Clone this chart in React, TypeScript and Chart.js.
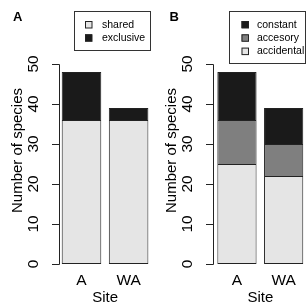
import React, { useEffect, useRef } from 'react';
import { Chart, registerables } from 'chart.js';

Chart.register(...registerables);

const sites = ['A', 'WA'];
const sharedCounts = [36, 36];
const exclusiveCounts = [12, 3];
const accidentalCounts = [25, 22];
const accesoryCounts = [11, 8];
const constantCounts = [12, 9];
const yTickValues = [0, 10, 20, 30, 40, 50];

const LIGHT = '#e5e5e5';
const MID = '#7f7f7f';
const DARK = '#1a1a1a';
const LINE = '#222222';
const FONT = '"Liberation Sans", Arial, Helvetica, sans-serif';

type PanelCfg = {
  letter: string;
  letterX: number;
  left: number;
  width: number;
  padLeft: number;
  padRight: number;
  axisX: number;
  series: { label: string; data: number[]; color: string }[];
  legendOrder: number[];
  legendBox: { x: number; y: number; w: number; h: number };
  squareX: number;
  textX: number;
  rows: number[];
};

const panels: PanelCfg[] = [
  {
    letter: 'A',
    letterX: 13,
    left: 0,
    width: 153,
    padLeft: 57.95,
    padRight: 0.85,
    axisX: 59.5,
    series: [
      { label: 'shared', data: sharedCounts, color: LIGHT },
      { label: 'exclusive', data: exclusiveCounts, color: DARK },
    ],
    legendOrder: [0, 1],
    legendBox: { x: 74.5, y: 11.5, w: 76, h: 39 },
    squareX: 85,
    textX: 102,
    rows: [24.5, 37.8],
  },
  {
    letter: 'B',
    letterX: 16.5,
    left: 153,
    width: 154,
    padLeft: 60.6,
    padRight: 0,
    axisX: 60.5,
    series: [
      { label: 'accidental', data: accidentalCounts, color: LIGHT },
      { label: 'accesory', data: accesoryCounts, color: MID },
      { label: 'constant', data: constantCounts, color: DARK },
    ],
    legendOrder: [2, 1, 0],
    legendBox: { x: 76.5, y: 11.5, w: 76, h: 52 },
    squareX: 88.5,
    textX: 104,
    rows: [24.5, 37.8, 51.1],
  },
];

function makePlugin(cfg: PanelCfg) {
  return {
    id: 'rstyle' + cfg.letter,
    afterDraw(chart: any) {
      const ctx = chart.ctx as CanvasRenderingContext2D;
      const ys = chart.scales.y;
      const xs = chart.scales.x;
      const area = chart.chartArea;
      ctx.save();
      ctx.strokeStyle = LINE;
      ctx.fillStyle = '#000';
      ctx.lineWidth = 1;
      // y axis line
      const y0 = ys.getPixelForValue(yTickValues[0]);
      const y1 = ys.getPixelForValue(yTickValues[yTickValues.length - 1]);
      ctx.beginPath();
      ctx.moveTo(cfg.axisX, y0 + 0.5);
      ctx.lineTo(cfg.axisX, y1 + 0.5);
      ctx.stroke();
      // ticks and rotated labels
      ctx.font = '15.5px ' + FONT;
      ctx.textAlign = 'center';
      ctx.textBaseline = 'alphabetic';
      yTickValues.forEach((v) => {
        const py = ys.getPixelForValue(v);
        ctx.beginPath();
        ctx.moveTo(cfg.axisX - 7.5, py + 0.5);
        ctx.lineTo(cfg.axisX, py + 0.5);
        ctx.stroke();
        ctx.save();
        ctx.translate(cfg.axisX - 22, py);
        ctx.rotate(-Math.PI / 2);
        ctx.fillText(String(v), 0, 0);
        ctx.restore();
      });
      // x tick labels
      sites.forEach((s, i) => {
        ctx.fillText(s, xs.getPixelForValue(i), 285);
      });
      ctx.font = '15px ' + FONT;
      // y title
      ctx.save();
      ctx.translate(cfg.axisX - 38, 150.5);
      ctx.rotate(-Math.PI / 2);
      ctx.fillText('Number of species', 0, 0);
      ctx.restore();
      ctx.fillText('Site', (area.left + area.right) / 2, 302);
      // panel letter
      ctx.font = 'bold 13px ' + FONT;
      ctx.textAlign = 'left';
      ctx.fillText(cfg.letter, cfg.letterX, 20.5);
      // legend
      const b = cfg.legendBox;
      ctx.strokeStyle = '#333';
      ctx.strokeRect(b.x, b.y, b.w, b.h);
      ctx.font = '10.5px ' + FONT;
      ctx.textBaseline = 'middle';
      cfg.legendOrder.forEach((di, r) => {
        const ds = chart.data.datasets[di];
        const cy = cfg.rows[r];
        ctx.fillStyle = ds.backgroundColor;
        ctx.fillRect(cfg.squareX, cy - 3.5, 7, 7);
        ctx.strokeStyle = '#222';
        ctx.strokeRect(cfg.squareX + 0.5, cy - 3, 6.5, 6.5);
        ctx.fillStyle = '#000';
        ctx.fillText(ds.label, cfg.textX, cy + 0.5);
      });
      ctx.restore();
    },
  };
}

function Panel({ cfg }: { cfg: PanelCfg }) {
  const ref = useRef<HTMLCanvasElement>(null);
  useEffect(() => {
    if (!ref.current) return;
    const chart = new Chart(ref.current, {
      type: 'bar',
      data: {
        labels: sites,
        datasets: cfg.series.map((s, i) => ({
          label: s.label,
          data: s.data,
          backgroundColor: s.color,
          borderColor: LINE,
          borderWidth: 1,
          borderSkipped: i === 0 ? false : 'start',
          barPercentage: 0.84,
          categoryPercentage: 1,
        })),
      },
      options: {
        responsive: false,
        animation: false,
        layout: {
          padding: { left: cfg.padLeft, right: cfg.padRight, top: 64, bottom: 42 },
        },
        plugins: { legend: { display: false }, tooltip: { enabled: false } },
        scales: {
          x: { display: false, stacked: true },
          y: { display: false, stacked: true, min: 0, max: 50 },
        },
      },
      plugins: [makePlugin(cfg)],
    } as any);
    return () => chart.destroy();
  }, [cfg]);
  return (
    <canvas
      ref={ref}
      width={cfg.width}
      height={306}
      style={{ position: 'absolute', left: cfg.left, top: 0, width: cfg.width, height: 306 }}
    />
  );
}

export default function App() {
  return (
    <div style={{ position: 'fixed', left: 0, top: 0, width: 307, height: 306, background: '#fff' }}>
      {panels.map((p) => (
        <Panel key={p.letter} cfg={p} />
      ))}
    </div>
  );
}
